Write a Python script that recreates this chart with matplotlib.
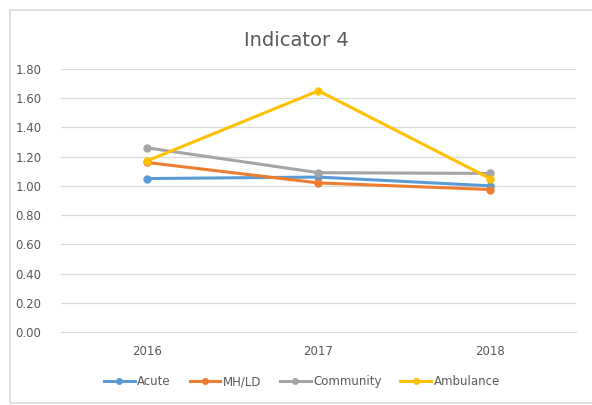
import matplotlib.pyplot as plt
from matplotlib.patches import Rectangle

years = ['2016', '2017', '2018']
acute = [1.05, 1.06, 1.00]
mhld = [1.16, 1.02, 0.975]
community = [1.26, 1.09, 1.085]
ambulance = [1.17, 1.65, 1.05]

series = [('Acute', acute, '#5B9BD5'),
          ('MH/LD', mhld, '#ED7D31'),
          ('Community', community, '#A5A5A5'),
          ('Ambulance', ambulance, '#FFC000')]

fig = plt.figure(figsize=(5.92, 4.05), dpi=100)
# chart frame (right edge runs off the picture)
fig.patches.append(Rectangle((10 / 592, 2 / 405), 600 / 592, 393 / 405,
                             transform=fig.transFigure, fill=False,
                             edgecolor='#D9D9D9', linewidth=1.2))
ax = fig.add_axes([0.103, 0.18, 0.870, 0.65])

x = range(len(years))
for name, vals, col in series:
    ax.plot(x, vals, color=col, linewidth=2.2, marker='o', markersize=5, label=name)

ax.set_xlim(-0.5, 2.5)
ax.set_ylim(0, 1.8)
ax.set_yticks([i * 0.2 for i in range(10)])
ax.set_yticklabels(['%.2f' % (i * 0.2) for i in range(10)])
ax.set_xticks(list(x))
ax.set_xticklabels(years)
ax.tick_params(axis='y', length=0, labelsize=8.5, colors='#595959', pad=14)
ax.tick_params(axis='x', length=0, labelsize=8.5, colors='#595959', pad=9)
ax.grid(axis='y', color='#D9D9D9', linewidth=0.9)
ax.set_axisbelow(True)
for s in ['top', 'right', 'left']:
    ax.spines[s].set_visible(False)
ax.spines['bottom'].set_color('#D9D9D9')

fig.text(0.5, 0.9, 'Indicator 4', ha='center', va='center', fontsize=14, color='#595959')
fig.legend(loc='center', bbox_to_anchor=(0.51, 0.057), ncol=4, frameon=False,
           fontsize=8.5, labelcolor='#595959', handlelength=2.6, columnspacing=1.6,
           handletextpad=0.2, markerscale=0.8)

fig.savefig('out.png', dpi=100)
